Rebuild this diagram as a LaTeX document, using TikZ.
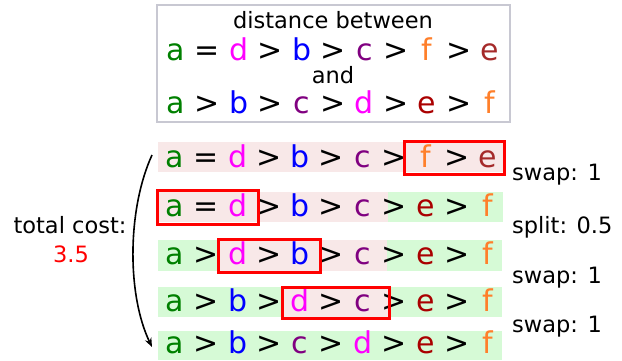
\documentclass[tikz,border=0pt]{standalone}
\usepackage{fontspec}
\setmainfont{DejaVu Sans}
\usetikzlibrary{arrows.meta,positioning}
\definecolor{ca}{RGB}{0,128,0}
\definecolor{cb}{RGB}{0,0,255}
\definecolor{cc}{RGB}{128,0,128}
\definecolor{cd}{RGB}{255,0,255}
\definecolor{ce}{RGB}{170,0,0}
\definecolor{cebr}{RGB}{165,42,42}
\definecolor{cf}{RGB}{255,127,42}
\definecolor{pinkbg}{RGB}{248,232,232}
\definecolor{greenbg}{RGB}{214,250,214}
\definecolor{hdrline}{RGB}{200,200,210}
\newcommand{\itmA}{\textcolor{ca}{a}}
\newcommand{\itmB}{\textcolor{cb}{b}}
\newcommand{\itmC}{\textcolor{cc}{c}}
\newcommand{\itmD}{\textcolor{cd}{d}}
\newcommand{\itmE}{\textcolor{ce}{e}}
\newcommand{\itmEb}{\textcolor{cebr}{e}}
\newcommand{\itmF}{\textcolor{cf}{f}}
\begin{document}
\begin{tikzpicture}[x=1pt,y=-1pt,>={Stealth[length=9pt,width=7pt]},
 sym/.style={anchor=base,inner sep=0pt,font=\fontsize{30}{36}\selectfont},
 hdrtxt/.style={anchor=base,inner sep=0pt,font=\fontsize{22.5}{27}\selectfont},
 lbl/.style={anchor=base west,inner sep=0pt,font=\fontsize{22.5}{27}\selectfont},
 pk/.style={fill=pinkbg,draw=none},
 gr/.style={fill=greenbg,draw=none},
 redbox/.style={draw=red,line width=3pt}]
\useasboundingbox (0,0) rectangle (622,360);
% header box
\draw[hdrline,line width=1.5pt] (157,5) rectangle (510,122);
\node[hdrtxt] (hdr1) at (333,28) {distance between};
\foreach \s [count=\i from 0] in {\itmA,=,\itmD,>,\itmB,>,\itmC,>,\itmF,>,\itmEb}
  \node[sym] (h2-\i) at ({176+31.4*\i},60) {\s};
\node[hdrtxt] (hdr3) at (333,83) {and};
\foreach \s [count=\i from 0] in {\itmA,>,\itmB,>,\itmC,>,\itmD,>,\itmE,>,\itmF}
  \node[sym] (h4-\i) at ({176+31.4*\i},113) {\s};
% backgrounds of the rows
\fill[pk] (158,142) rectangle (503,172);
\fill[pk] (158,192) rectangle (388,222);
\fill[gr] (388,192) rectangle (503,222);
\fill[gr] (158,240) rectangle (218,271);
\fill[pk] (218,240) rectangle (387,271);
\fill[gr] (387,240) rectangle (502,271);
\fill[gr] (158,287) rectangle (282,317);
\fill[pk] (282,287) rectangle (389,317);
\fill[gr] (389,287) rectangle (502,317);
\fill[gr] (158,331) rectangle (502,360);
% rows
\foreach \s [count=\i from 0] in {\itmA,=,\itmD,>,\itmB,>,\itmC,>,\itmF,>,\itmEb}
  \node[sym] (r1-\i) at ({175+31.3*\i},167) {\s};
\foreach \s [count=\i from 0] in {\itmA,=,\itmD,>,\itmB,>,\itmC,>,\itmE,>,\itmF}
  \node[sym] (r2-\i) at ({175+31.3*\i},216) {\s};
\foreach \s [count=\i from 0] in {\itmA,>,\itmD,>,\itmB,>,\itmC,>,\itmE,>,\itmF}
  \node[sym] (r3-\i) at ({175+31.3*\i},264) {\s};
\foreach \s [count=\i from 0] in {\itmA,>,\itmB,>,\itmD,>,\itmC,>,\itmE,>,\itmF}
  \node[sym] (r4-\i) at ({175+31.3*\i},311) {\s};
\foreach \s [count=\i from 0] in {\itmA,>,\itmB,>,\itmC,>,\itmD,>,\itmE,>,\itmF}
  \node[sym] (r5-\i) at ({175+31.3*\i},353) {\s};
% the moved parts
\draw[redbox] (404,141) rectangle (504,174);
\draw[redbox] (157,190) rectangle (258,224);
\draw[redbox] (218,239) rectangle (320,272);
\draw[redbox] (282,287) rectangle (389,318);
% costs
\node[lbl] (c1) at (512,180) {swap: 1};
\node[lbl] (c2) at (512,233) {split: 0.5};
\node[lbl] (c3) at (512,283) {swap: 1};
\node[lbl] (c4) at (512,332) {swap: 1};
\node[hdrtxt] (tot) at (70,233) {total cost:};
\node[hdrtxt,text=red] (totv) at (71,262) {3.5};
\coordinate (arrS) at (152,155);
\coordinate (arrE) at (152,347);
\draw[->,line width=1.6pt] (arrS) .. controls (127,210) and (127,295) .. (arrE);
\end{tikzpicture}
\end{document}
